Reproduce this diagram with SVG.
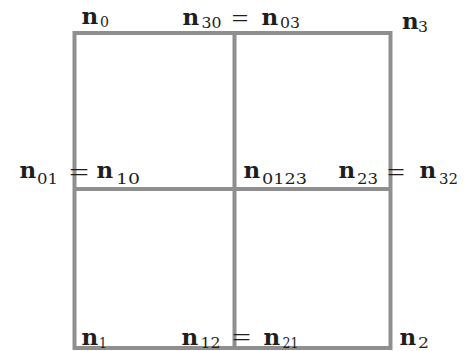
<svg xmlns="http://www.w3.org/2000/svg" width="473" height="351" viewBox="0 0 473 351">
<style>
.g{stroke:#8f8f8f;stroke-width:4;fill:none}
.n{font-family:"DejaVu Serif",serif;font-weight:bold;font-size:23px;fill:#1e1e1e}
.s{font-family:"DejaVu Serif",serif;font-size:14px;fill:#1e1e1e}
.e{font-family:"Liberation Serif",serif;font-size:26px;fill:#1e1e1e}
</style>
<rect width="473" height="351" fill="#fff"/>
<g id="connectors">
<rect class="g" x="74.5" y="33" width="316" height="315"/>
<line class="g" x1="234.5" y1="33" x2="234.5" y2="348"/>
<line class="g" x1="74.5" y1="189" x2="390.5" y2="189"/>
</g>
<g id="n0"><text class="n" x="81.5" y="23.5">n</text><text class="s" x="100" y="26.5" textLength="9" lengthAdjust="spacingAndGlyphs">0</text></g>
<g id="n30"><text class="n" x="182.5" y="24.5">n</text><text class="s" x="201.5" y="27.5" textLength="20" lengthAdjust="spacingAndGlyphs">30</text><text class="e" x="231.5" y="27" textLength="17" lengthAdjust="spacingAndGlyphs">=</text><text class="n" x="261.5" y="24.5">n</text><text class="s" x="280" y="27.5" textLength="20" lengthAdjust="spacingAndGlyphs">03</text></g>
<g id="n3"><text class="n" x="402" y="28.5">n</text><text class="s" x="418" y="31.5" textLength="10" lengthAdjust="spacingAndGlyphs">3</text></g>
<g id="n01"><text class="n" x="19.5" y="178">n</text><text class="s" x="37" y="184" textLength="21" lengthAdjust="spacingAndGlyphs">01</text><text class="e" x="69" y="181" textLength="20" lengthAdjust="spacingAndGlyphs">=</text><text class="n" x="96.5" y="178">n</text><text class="s" x="116" y="184" textLength="24" lengthAdjust="spacingAndGlyphs">10</text></g>
<g id="n0123"><text class="n" x="243.5" y="178">n</text><text class="s" x="262" y="184" textLength="45" lengthAdjust="spacingAndGlyphs">0123</text></g>
<g id="n23"><text class="n" x="338.5" y="178">n</text><text class="s" x="357" y="184" textLength="21" lengthAdjust="spacingAndGlyphs">23</text><text class="e" x="387" y="181" textLength="18" lengthAdjust="spacingAndGlyphs">=</text><text class="n" x="419.5" y="178">n</text><text class="s" x="439" y="184" textLength="19" lengthAdjust="spacingAndGlyphs">32</text></g>
<g id="n1"><text class="n" x="81.5" y="345">n</text><text class="s" x="99" y="347.5" textLength="8" lengthAdjust="spacingAndGlyphs">1</text></g>
<g id="n12"><text class="n" x="181.5" y="345">n</text><text class="s" x="200.5" y="347.5" textLength="20" lengthAdjust="spacingAndGlyphs">12</text><text class="e" x="232" y="346" textLength="19" lengthAdjust="spacingAndGlyphs">=</text><text class="n" x="263.5" y="345">n</text><text class="s" x="282.5" y="347.5" textLength="16" lengthAdjust="spacingAndGlyphs">21</text></g>
<g id="n2"><text class="n" x="399.5" y="345">n</text><text class="s" x="418" y="347.5" textLength="11" lengthAdjust="spacingAndGlyphs">2</text></g>
</svg>
